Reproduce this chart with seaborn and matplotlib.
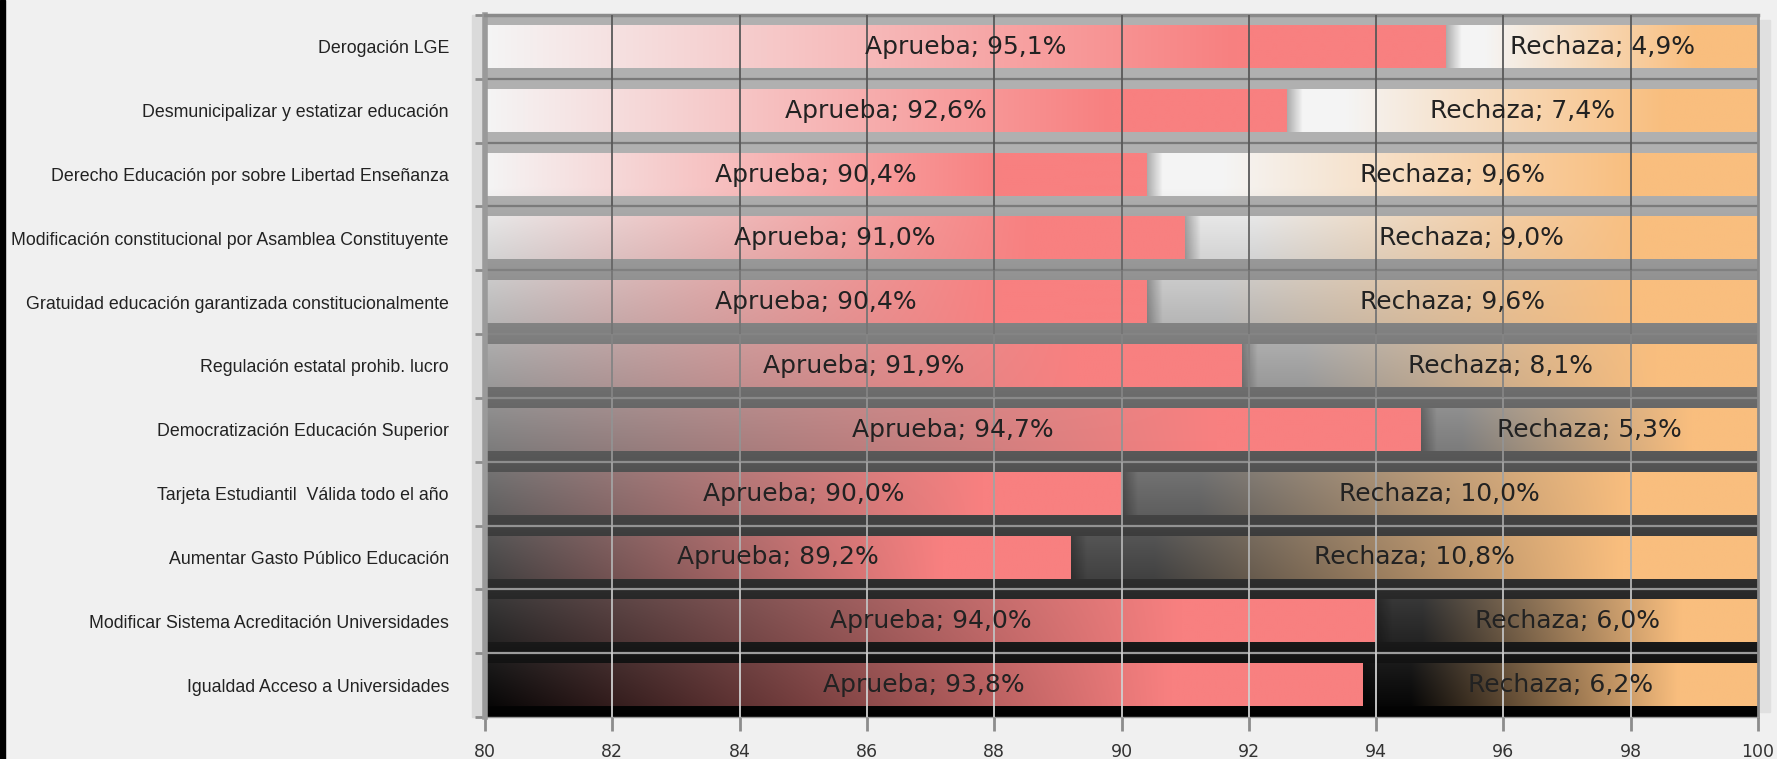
import numpy as np
import pandas as pd
import matplotlib
matplotlib.use("Agg")
import matplotlib.pyplot as plt
import seaborn as sns
from matplotlib.colors import to_rgb
from matplotlib.patches import Rectangle

# datos (de arriba hacia abajo)
categorias = [
    "Derogación LGE",
    "Desmunicipalizar y estatizar educación",
    "Derecho Educación por sobre Libertad Enseñanza",
    "Modificación constitucional por Asamblea Constituyente",
    "Gratuidad educación garantizada constitucionalmente",
    "Regulación estatal prohib. lucro",
    "Democratización Educación Superior",
    "Tarjeta Estudiantil  Válida todo el año",
    "Aumentar Gasto Público Educación",
    "Modificar Sistema Acreditación Universidades",
    "Igualdad Acceso a Universidades",
]
aprueba = [95.1, 92.6, 90.4, 91.0, 90.4, 91.9, 94.7, 90.0, 89.2, 94.0, 93.8]
rechaza = [4.9, 7.4, 9.6, 9.0, 9.6, 8.1, 5.3, 10.0, 10.8, 6.0, 6.2]
xticks = [80, 82, 84, 86, 88, 90, 92, 94, 96, 98, 100]

df = pd.DataFrame({"tema": categorias, "Aprueba": aprueba, "Rechaza": rechaza})
df["Total"] = df["Aprueba"] + df["Rechaza"]
n = len(df)

sns.set_theme(style="white")
plt.rcParams["font.family"] = ["DejaVu Sans"]

W, H = 1777, 759
fig = plt.figure(figsize=(W / 100, H / 100), dpi=100, facecolor="#f0f0f0")
ax = fig.add_axes([485 / W, 1 - 717 / H, (1758 - 485) / W, (717 - 15) / H])

sns.barplot(data=df, y="tema", x="Total", orient="h", ax=ax, width=0.66,
            color="#f9be7e", errorbar=None)
sns.barplot(data=df, y="tema", x="Aprueba", orient="h", ax=ax, width=0.66,
            color="#f88080", errorbar=None)
tot_bars = ax.patches[:n]
apr_bars = ax.patches[n:2 * n]

ax.set_xlim(80, 100)
ax.set_ylim(n - 0.5, -0.5)
ylim = ax.get_ylim()


def shade(y):
    # degradado vertical global: blanco arriba, negro abajo
    return np.clip(0.96 - 0.115 * (np.asarray(y) - 2.2), 0.0, 0.96)


def ramp(t, a, b):
    return np.clip((t - a) / (b - a), 0, 1)


# fondo del area de trazado
yy = np.linspace(-0.5, n - 0.5, 500)
g = 0.72 * shade(yy)
bg = np.repeat(g[:, None, None], 3, axis=2)
ax.imshow(bg, extent=(80, 100, n - 0.5, -0.5), origin="upper", aspect="auto",
          zorder=0, interpolation="bilinear")

# separadores entre filas
for i in range(n - 1):
    y = i + 0.5
    c = 0.47 + 0.16 * (1 - float(shade(y)))
    ax.hlines(y, 80, 100, colors=[(c, c, c)], lw=1.6, zorder=0.6)


def gradient_bar(x0, x1, y0, h, target, a, b):
    ny, nx = 40, 300
    ys = np.linspace(y0, y0 + h, ny)
    s = shade(ys)[:, None, None]
    w = ramp(np.linspace(0, 1, nx), a, b)[None, :, None]
    col = np.array(to_rgb(target))[None, None, :]
    img = s * (1 - w) + col * w
    ax.imshow(img, extent=(x0, x1, y0 + h, y0), origin="upper", aspect="auto",
              zorder=1, interpolation="bilinear")


for pa, pt in zip(apr_bars, tot_bars):
    y0, h = pa.get_y(), pa.get_height()
    xa = pa.get_x() + pa.get_width()
    xt = pt.get_x() + pt.get_width()
    gradient_bar(max(80, pa.get_x()), xa, y0, h, "#f88080", 0.0, 0.78)
    gradient_bar(xa, xt, y0, h, "#f9be7e", 0.12, 0.8)
    # sombra al final de la barra Aprueba
    sh = np.zeros((2, 60, 4))
    sh[..., 3] = np.linspace(0.3, 0, 60)[None, :]
    ax.imshow(sh, extent=(xa, xa + 0.25, y0 + h, y0), origin="upper",
              aspect="auto", zorder=1.5, interpolation="bilinear")
    pa.set_visible(False)
    pt.set_visible(False)

# lineas de cuadricula verticales (oscuras arriba, claras abajo)
for i in range(n):
    c = 0.33 + 0.52 * (1 - float(shade(i)))
    ax.vlines(xticks[1:-1], i - 0.5, i + 0.5, colors=[(c, c, c)], lw=1.3, zorder=4)

# etiquetas
for i, (va, vr) in enumerate(zip(aprueba, rechaza)):
    ax.text((80 + va) / 2, i, f"Aprueba; {va:.1f}%".replace(".", ","),
            ha="center", va="center", fontsize=18, color="#222222", zorder=6)
    ax.text((va + va + vr) / 2, i, f"Rechaza; {vr:.1f}%".replace(".", ","),
            ha="center", va="center", fontsize=18, color="#222222", zorder=6)

ax.set_xlim(80, 100)
ax.set_ylim(*ylim)
ax.set_xticks(xticks)
ax.set_xticklabels([str(t) for t in xticks])
ax.set_yticks(np.arange(-0.5, n, 1), minor=True)
ax.set_xlabel("")
ax.set_ylabel("")
for lab in ax.get_yticklabels():
    lab.set_fontfamily(["Liberation Sans", "DejaVu Sans"])

ax.tick_params(axis="x", which="major", bottom=True, direction="out", length=10,
               width=2, color="#8c8c8c", labelsize=12.5, labelcolor="#333333", pad=9)
ax.tick_params(axis="y", which="major", left=False, length=0, labelsize=12.8,
               labelcolor="#222222", pad=26)
ax.tick_params(axis="y", which="minor", left=True, direction="out", length=7,
               width=2, color="#8c8c8c")

for side in ["left", "top", "right", "bottom"]:
    ax.spines[side].set_visible(True)
ax.spines["left"].set_color("#9a9a9a")
ax.spines["left"].set_linewidth(4)
ax.spines["top"].set_color("#8a8a8a")
ax.spines["top"].set_linewidth(2.5)
ax.spines["right"].set_color("#8a8a8a")
ax.spines["right"].set_linewidth(2)
ax.spines["bottom"].set_color("#9a9a9a")
ax.spines["bottom"].set_linewidth(1)

# sombras suaves junto al marco y borde negro izquierdo
fig.patches.append(Rectangle((472 / W, 1 - 717 / H), 11 / W, 702 / H,
                             transform=fig.transFigure, color="#dadada", zorder=-1))
fig.patches.append(Rectangle((1760 / W, 1 - 712 / H), 10 / W, 692 / H,
                             transform=fig.transFigure, color="#e0e0e0", zorder=-1))
fig.patches.append(Rectangle((0, 0), 5 / W, 1, transform=fig.transFigure,
                             color="black", zorder=-1))

fig.savefig("out.png", dpi=100, facecolor=fig.get_facecolor())
